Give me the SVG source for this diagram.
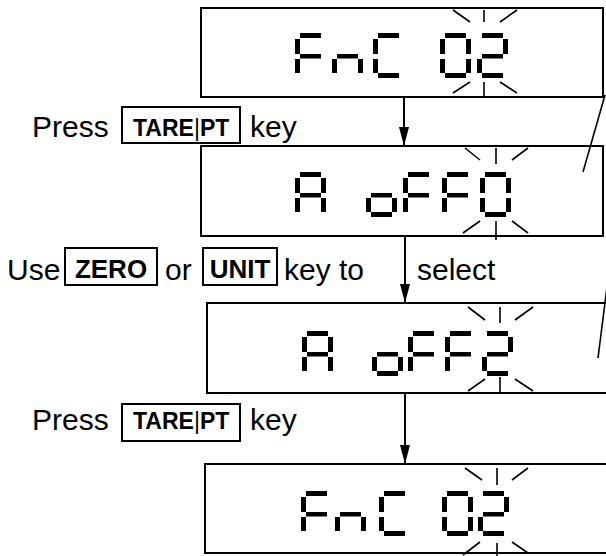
<svg xmlns="http://www.w3.org/2000/svg" width="606" height="556" viewBox="0 0 606 556">
<style>
.box{fill:#fff;stroke:#000;stroke-width:2}
.key{fill:none;stroke:#000;stroke-width:2}
.t{font-family:"Liberation Sans",Arial,sans-serif;font-size:30px;fill:#000}
.k{font-family:"Liberation Sans",Arial,sans-serif;font-weight:bold;font-size:23px;fill:#000}
.pipe{font-weight:normal}
.bl{stroke:#000;stroke-width:1.6;fill:none}
.cn{stroke:#000;stroke-width:2;fill:none}
.sl{stroke:#000;stroke-width:1.6;fill:none}
.seg{fill:#000}
</style>
<defs>
<rect id="sa" class="seg" x="5" y="0" width="21" height="5"/>
<rect id="sb" class="seg" x="26" y="6" width="5" height="15"/>
<rect id="sc" class="seg" x="26" y="26" width="5" height="14"/>
<rect id="sd" class="seg" x="5" y="40" width="21" height="5"/>
<rect id="se" class="seg" x="0" y="26" width="5" height="14"/>
<rect id="sf" class="seg" x="0" y="6" width="5" height="15"/>
<rect id="sg" class="seg" x="5" y="21" width="21" height="4.5"/>
<g id="gF"><use href="#sa"/><use href="#sf"/><use href="#sg"/><use href="#se"/></g>
<g id="gn"><use href="#sg"/><use href="#se"/><use href="#sc"/></g>
<g id="gC"><use href="#sa"/><use href="#sf"/><use href="#se"/><use href="#sd"/></g>
<g id="g0"><use href="#sa"/><use href="#sb"/><use href="#sc"/><use href="#sd"/><use href="#se"/><use href="#sf"/></g>
<g id="g2"><use href="#sa"/><use href="#sb"/><use href="#sg"/><use href="#se"/><use href="#sd"/></g>
<g id="gA"><use href="#sa"/><use href="#sb"/><use href="#sc"/><use href="#se"/><use href="#sf"/><use href="#sg"/></g>
<g id="go"><use href="#sg"/><use href="#se"/><use href="#sc"/><use href="#sd"/></g>
<marker id="ah" markerUnits="userSpaceOnUse" markerWidth="19" markerHeight="10" refX="19" refY="5" orient="auto">
<path d="M0,0 L19,5 L0,10 z" fill="#000"/>
</marker>
</defs>

<g id="display1">
<rect class="box" x="201" y="8" width="402" height="89"/>
<use href="#gF" x="295" y="33"/>
<use href="#gn" x="332" y="33"/>
<use href="#gC" x="373" y="33"/>
<use href="#g0" x="440" y="33"/>
<use href="#g2" x="477" y="33"/>
<path class="bl" d="M453,10 L470,22 M484,10 L484,22 M500,22 L517,10 M453,93 L470,82 M484,82 L484,98 M500,82 L517,93"/>
</g>

<g id="display2">
<rect class="box" x="201" y="146" width="402" height="90"/>
<use href="#gA" x="295" y="172"/>
<use href="#go" x="366" y="172"/>
<use href="#gF" x="403" y="172"/>
<use href="#gF" x="442" y="172"/>
<use href="#g0" x="480" y="172"/>
<path class="bl" d="M465,148 L480,160 M496,148 L496,164 M512,160 L528,148 M463,233 L480,221 M496,221 L496,240 M512,221 L528,233"/>
</g>

<g id="display3">
<rect class="box" x="207" y="303" width="410" height="90"/>
<use href="#gA" x="302" y="331"/>
<use href="#go" x="372" y="331"/>
<use href="#gF" x="408" y="331"/>
<use href="#gF" x="445" y="331"/>
<use href="#g2" x="482" y="331"/>
<path class="bl" d="M468,307 L485,320 M500,307 L500,323 M515,320 L533,307 M468,391 L485,379 M500,377 L500,393 M515,379 L533,391"/>
</g>

<g id="display4">
<rect class="box" x="205" y="464" width="410" height="89"/>
<use href="#gF" x="301" y="491"/>
<use href="#gn" x="335" y="491"/>
<use href="#gC" x="379" y="491"/>
<use href="#g0" x="442" y="491"/>
<use href="#g2" x="478" y="491"/>
<path class="bl" d="M465,468 L482,480 M497,468 L497,485 M512,480 L528,468 M463,555 L480,542 M497,543 L497,556 M512,542 L528,553"/>
</g>

<g id="label1">
<text class="t" x="32" y="137">Press</text>
<rect class="key" x="122" y="107" width="118" height="36"/>
<text class="k" x="133" y="136">TARE<tspan class="pipe">|</tspan>PT</text>
<text class="t" x="250" y="137">key</text>
</g>

<g id="label2">
<text class="t" x="7" y="280">Use</text>
<rect class="key" x="65" y="248" width="92" height="37"/>
<text class="k" x="111" y="278" text-anchor="middle" style="font-size:26px">ZERO</text>
<text class="t" x="165" y="280">or</text>
<rect class="key" x="203" y="248" width="74" height="37"/>
<text class="k" x="240" y="278" text-anchor="middle" style="font-size:26px">UNIT</text>
<text class="t" x="284" y="280">key to</text>
<text class="t" x="417" y="280">select</text>
</g>

<g id="label3">
<text class="t" x="32" y="430">Press</text>
<rect class="key" x="122" y="404" width="118" height="37"/>
<text class="k" x="133" y="429">TARE<tspan class="pipe">|</tspan>PT</text>
<text class="t" x="250" y="430">key</text>
</g>

<g id="connectors">
<line class="cn" x1="404" y1="97" x2="404" y2="146" marker-end="url(#ah)"/>
<line class="cn" x1="405" y1="236" x2="405" y2="303" marker-end="url(#ah)"/>
<line class="cn" x1="405" y1="393" x2="405" y2="464" marker-end="url(#ah)"/>
<line class="sl" x1="605" y1="95" x2="583" y2="172"/>
<line class="sl" x1="607" y1="287" x2="598" y2="358"/>
</g>
</svg>
